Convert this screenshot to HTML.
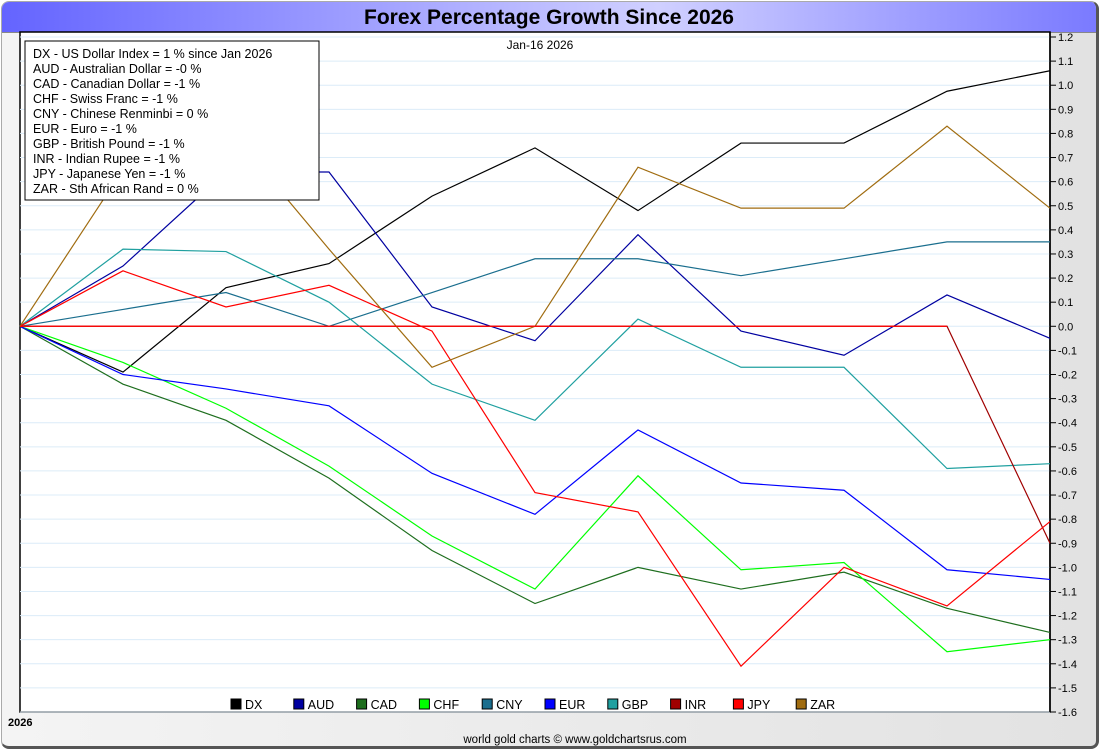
<!DOCTYPE html>
<html><head><meta charset="utf-8"><style>
body{margin:0;width:1100px;height:750px;overflow:hidden;background:#fff;font-family:"Liberation Sans",sans-serif}
#frame{position:absolute;left:1px;top:1px;width:1094px;height:744px;border-radius:8px;background:linear-gradient(90deg,#f4f4f4,#e2e2e2);border:1px solid #aaa;border-right:3px solid #555;border-bottom:3px solid #555;overflow:hidden}
#titlebar{position:absolute;left:0;top:0;width:100%;height:30px;background:linear-gradient(90deg,#6464ff,#d0d0ff 60%,#7a7aff);border-bottom:1px solid #888}
#title{position:absolute;width:100%;top:4px;text-align:center;font-weight:bold;font-size:21px;color:#000}
</style></head><body>
<div id="frame">
<div id="titlebar"><div id="title">Forex Percentage Growth Since 2026</div></div>
</div>
<svg id="chart" width="1100" height="750" style="position:absolute;left:0;top:0"></svg>
<script>
const categories=["Jan-16","","","","","","","","","","Now"];
const seriesNames=["DX","AUD","CAD","CHF","CNY","EUR","GBP","INR","JPY","ZAR"];
const seriesColors=["#000000","#0000a0","#1e6e1e","#00ff00","#1a6e8e","#0000ff","#20a0a0","#a00000","#ff0000","#a06c10"];
const dx=[0,-0.19,0.16,0.26,0.54,0.74,0.48,0.76,0.76,0.975,1.06];
const aud=[0,0.25,0.64,0.64,0.08,-0.06,0.38,-0.02,-0.12,0.13,-0.05];
const cad=[0,-0.24,-0.39,-0.63,-0.93,-1.15,-1.0,-1.09,-1.02,-1.17,-1.27];
const chf=[0,-0.15,-0.34,-0.58,-0.87,-1.09,-0.62,-1.01,-0.98,-1.35,-1.30];
const cny=[0,0.07,0.14,0.0,0.14,0.28,0.28,0.21,0.28,0.35,0.35];
const eur=[0,-0.2,-0.26,-0.33,-0.61,-0.78,-0.43,-0.65,-0.68,-1.01,-1.05];
const gbp=[0,0.32,0.31,0.1,-0.24,-0.39,0.03,-0.17,-0.17,-0.59,-0.57];
const inr=[0,0,0,0,0,0,0,0,0,0,-0.9];
const jpy=[0,0.23,0.08,0.17,-0.02,-0.69,-0.77,-1.41,-1.0,-1.16,-0.81];
const zar=[0,0.65,0.83,0.32,-0.17,0.0,0.66,0.49,0.49,0.83,0.49];
const legendLines=["DX - US Dollar Index = 1 % since Jan 2026","AUD - Australian Dollar = -0 %","CAD - Canadian Dollar = -1 %","CHF - Swiss Franc = -1 %","CNY - Chinese Renminbi = 0 %","EUR - Euro = -1 %","GBP - British Pound = -1 %","INR - Indian Rupee = -1 %","JPY - Japanese Yen = -1 %","ZAR - Sth African Rand = 0 %"];
const yTicks=[1.2,1.1,1.0,0.9,0.8,0.7,0.6,0.5,0.4,0.3,0.2,0.1,0.0,-0.1,-0.2,-0.3,-0.4,-0.5,-0.6,-0.7,-0.8,-0.9,-1.0,-1.1,-1.2,-1.3,-1.4,-1.5,-1.6];
const allSeries=[dx,aud,cad,chf,cny,eur,gbp,inr,jpy,zar];

const L=20,R=1050,T=32,B=712,yMax=1.2,yMin=-1.6;
const yTop=37;
const ys=v=>yTop+(yMax-v)/(yMax-yMin)*(B-yTop);
const xs=i=>L+i*(R-L)/(categories.length-1);
const NS="http://www.w3.org/2000/svg";
const svg=document.getElementById('chart');
function mk(t,a,p){const e=document.createElementNS(NS,t);for(const k in a)e.setAttribute(k,a[k]);(p||svg).appendChild(e);return e;}

const plot=mk('rect',{x:L,y:T,width:R-L,height:B-T,fill:'#fff',stroke:'#000','stroke-width':1.5});


yTicks.forEach(v=>{
  const y=ys(v);
  const g=mk('line',{x1:L,x2:R,y1:y,y2:y,stroke:'#dcecf8','stroke-width':1});
  
  
  const tk=mk('line',{x1:R,x2:R+6,y1:y,y2:y,stroke:'#000','stroke-width':1});
  
  
  const t=mk('text',{x:R+8,y:y+4,'font-size':11,fill:'#000'});
  t.textContent=v.toFixed(1);
  
  
});
const ax=mk('line',{x1:R,x2:R,y1:T,y2:B,stroke:'#000','stroke-width':1.5});



allSeries.forEach((s,k)=>{
  const p=mk('polyline',{points:s.map((v,i)=>xs(i)+','+ys(v)).join(' '),fill:'none',stroke:seriesColors[k],'stroke-width':1.2});
  
  
});
const zl=mk('line',{x1:L,x2:xs(categories.length-2),y1:ys(0),y2:ys(0),stroke:'#ff0000','stroke-width':1.2});



const dt=mk('text',{x:540,y:49,'font-size':12,'text-anchor':'middle'});
dt.textContent="Jan-16  2026";



const lb=mk('rect',{x:25,y:41,width:294,height:159,fill:'#fff',stroke:'#000','stroke-width':1});


legendLines.forEach((s,i)=>{
  const t=mk('text',{x:33,y:58+i*15,'font-size':12.5,fill:'#000'});
  t.textContent=s;
  
  
});

seriesNames.forEach((n,i)=>{
  const x=231+i*62.8;
  const r=mk('rect',{x:x,y:699,width:10,height:10,fill:seriesColors[i],stroke:'#000','stroke-width':1});
  
  
  const t=mk('text',{x:x+14,y:709,'font-size':12.5});
  t.textContent=n;
  
  
});

const yr=mk('text',{x:8,y:726,'font-size':11,'font-weight':'bold'});
yr.textContent="2026";


const cr=mk('text',{x:575,y:743,'font-size':11.5,'text-anchor':'middle'});
cr.textContent="world gold charts © www.goldchartsrus.com";


</script>
</body></html>
